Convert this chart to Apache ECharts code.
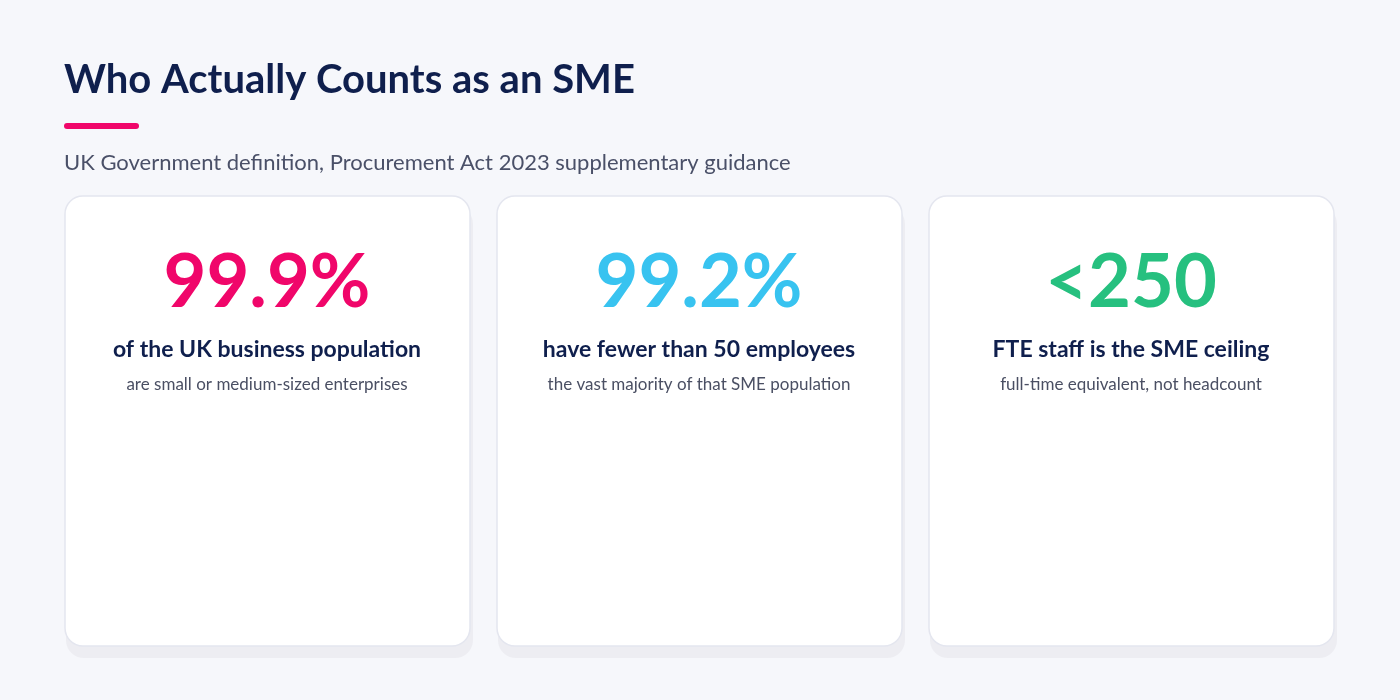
<!DOCTYPE html>
<html>
<head>
<meta charset="utf-8">
<script src="https://cdn.jsdelivr.net/npm/echarts@6/dist/echarts.min.js"></script>
<style>
html,body{margin:0;padding:0;background:#f6f7fb;}
#main{width:1400px;height:700px;}
</style>
</head>
<body>
<div id="main"></div>
<script>
var values = ['99.9%', '99.2%', '<250'];
var labels = ['of the UK business population', 'have fewer than 50 employees', 'FTE staff is the SME ceiling'];
var notes = ['are small or medium-sized enterprises', 'the vast majority of that SME population', 'full-time equivalent, not headcount'];
var colors = ['#f0066a', '#38c3f0', '#26c07f'];

var chart = echarts.init(document.getElementById('main'));
var font = 'Lato, "Noto Sans", sans-serif';

var elements = [
    {type: 'text', left: 64, top: 60, style: {text: 'Who Actually Counts as an SME', fill: '#0f1f4d', font: 'bold 40px ' + font}},
    {type: 'rect', left: 64, top: 123, shape: {width: 75, height: 6, r: 3}, style: {fill: '#f0066a'}},
    {type: 'text', left: 64, top: 152, style: {text: 'UK Government definition, Procurement Act 2023 supplementary guidance', fill: '#4a5068', font: '22px ' + font}}
];

for (var i = 0; i < values.length; i++) {
    var x = 65 + i * 432;
    var cx = x + 202;
    // shadow
    elements.push({type: 'rect', shape: {x: x + 1, y: 206, width: 407, height: 452, r: 18}, style: {fill: '#ededf2'}, z: 1});
    elements.push({type: 'rect', shape: {x: x, y: 196, width: 405, height: 450, r: 18}, style: {fill: '#ffffff', stroke: '#e4e6ef', lineWidth: 1.5}, z: 2});
    elements.push({type: 'text', z: 3, style: {text: values[i], x: cx, y: 283, align: 'center', verticalAlign: 'middle', fill: colors[i], font: 'bold 74px ' + font}});
    elements.push({type: 'text', z: 3, style: {text: labels[i], x: cx, y: 350, align: 'center', verticalAlign: 'middle', fill: '#0f1f4d', font: 'bold 23px ' + font}});
    elements.push({type: 'text', z: 3, style: {text: notes[i], x: cx, y: 385, align: 'center', verticalAlign: 'middle', fill: '#4a4f63', font: '17px ' + font}});
}

chart.setOption({
    backgroundColor: '#f6f7fb',
    graphic: {elements: elements}
});
</script>
</body>
</html>
